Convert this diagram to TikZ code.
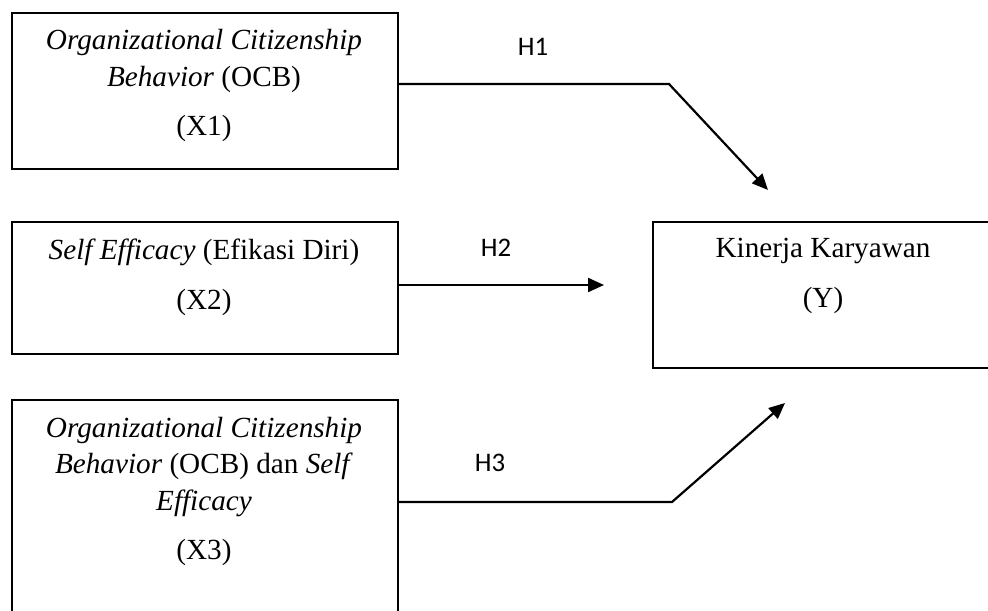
\documentclass[tikz,border=0pt]{standalone}
\usepackage{fontspec}
\setmainfont{Liberation Serif}
\newfontfamily\hypfont{Carlito}
\usetikzlibrary{arrows.meta,calc}

\begin{document}
\begin{tikzpicture}[x=0.5pt,y=-0.5pt,
  var box/.style={draw, line width=1pt, anchor=north west, inner sep=0pt},
  var text/.style={font=\fontsize{14.6}{18.4}\selectfont, align=center},
  hyp label/.style={font=\hypfont\fontsize{13.4}{16}\selectfont},
  hyp/.style={-{Triangle[length=8pt,width=7pt]}, line width=1.1pt, line join=miter}
]

% Page frame; the Y box and the X3 box run off the edge of the page.
\useasboundingbox (0,0) rectangle (988,610);
\clip (0,0) rectangle (988,610);

% -----------------------------------------------------------------------------
% Independent variables (left column).
% -----------------------------------------------------------------------------
\node[var box, minimum width=193pt, minimum height=78pt] (ocbBox) at (11,12) {};
\node[var text] (ocbName) at (204,61) {\textit{Organizational Citizenship}\\\textit{Behavior} (OCB)};
\node[var text] (ocbId) at (204,128) {(X1)};

\node[var box, minimum width=193pt, minimum height=66pt] (seBox) at (11,221) {};
\node[var text] (seName) at (204,252) {\textit{Self Efficacy} (Efikasi Diri)};
\node[var text] (seId) at (204,302) {(X2)};

\node[var box, minimum width=193pt, minimum height=115pt] (bothBox) at (11,399) {};
\node[var text] (bothName) at (204,467) {\textit{Organizational Citizenship}\\\textit{Behavior} (OCB) dan \textit{Self}\\\textit{Efficacy}};
\node[var text] (bothId) at (204,552) {(X3)};

% -----------------------------------------------------------------------------
% Dependent variable.
% -----------------------------------------------------------------------------
\node[var box, minimum width=170pt, minimum height=73pt] (kinBox) at (652,221) {};
\node[var text] (kinName) at (823,251) {Kinerja Karyawan};
\node[var text] (kinId) at (823,300) {(Y)};

% -----------------------------------------------------------------------------
% Hypotheses.
% -----------------------------------------------------------------------------
\coordinate (h1Bend) at (669,84);
\coordinate (h1Tip) at (768,190);
\coordinate (h2Tip) at (604,285);
\coordinate (h3Bend) at (672,502);
\coordinate (h3Tip) at (785,403);

\draw[hyp] (ocbBox.east |- h1Bend) -- (h1Bend) -- (h1Tip);
\draw[hyp] (seBox.east |- h2Tip) -- (h2Tip);
\draw[hyp] (bothBox.east |- h3Bend) -- (h3Bend) -- (h3Tip);

\node[hyp label] (h1) at (533,47) {H1};
\node[hyp label] (h2) at (496,248) {H2};
\node[hyp label] (h3) at (490,463) {H3};

\end{tikzpicture}
\end{document}
